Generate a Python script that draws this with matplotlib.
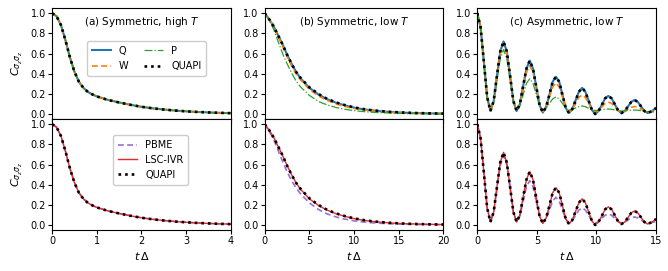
import matplotlib
matplotlib.use("Agg")
import matplotlib.pyplot as plt

# ---------------- data ----------------
# (a) symmetric, high T
t_a = [0, 0.1, 0.2, 0.3, 0.4, 0.5, 0.6, 0.7, 0.8, 0.9, 1.0, 1.25, 1.5, 1.75,
       2.0, 2.25, 2.5, 2.75, 3.0, 3.25, 3.5, 3.75, 4.0]
quapi_a = [1.0, 0.97, 0.88, 0.73, 0.56, 0.42, 0.32, 0.26, 0.22, 0.195, 0.175,
           0.14, 0.115, 0.092, 0.072, 0.057, 0.045, 0.035, 0.027, 0.021,
           0.016, 0.012, 0.009]
q_a = quapi_a
w_a = quapi_a
p_a = quapi_a
pbme_a = quapi_a
lsc_a = quapi_a

# (b) symmetric, low T
t_b = [0, 0.5, 1, 1.5, 2, 2.5, 3, 3.5, 4, 5, 6, 7, 8, 9, 10, 11, 12, 13, 14,
       15, 16, 17, 18, 19, 20]
quapi_b = [1.0, 0.94, 0.87, 0.78, 0.69, 0.59, 0.50, 0.42, 0.36, 0.265, 0.20,
           0.15, 0.115, 0.088, 0.066, 0.05, 0.038, 0.029, 0.022, 0.017,
           0.013, 0.01, 0.008, 0.006, 0.005]
q_b = [1.0, 0.94, 0.87, 0.78, 0.69, 0.59, 0.50, 0.42, 0.355, 0.26, 0.195,
       0.147, 0.112, 0.085, 0.064, 0.048, 0.037, 0.028, 0.021, 0.016,
       0.012, 0.01, 0.008, 0.006, 0.005]
w_b = [1.0, 0.94, 0.87, 0.77, 0.67, 0.57, 0.48, 0.40, 0.34, 0.245, 0.18,
       0.135, 0.10, 0.075, 0.055, 0.042, 0.032, 0.024, 0.018, 0.014,
       0.011, 0.008, 0.006, 0.005, 0.004]
p_b = [1.0, 0.93, 0.84, 0.72, 0.60, 0.50, 0.41, 0.33, 0.27, 0.185, 0.125,
       0.09, 0.065, 0.047, 0.034, 0.025, 0.018, 0.013, 0.01, 0.007,
       0.005, 0.004, 0.003, 0.002, 0.002]
pbme_b = [1.0, 0.93, 0.85, 0.74, 0.63, 0.53, 0.44, 0.37, 0.31, 0.22, 0.155,
          0.11, 0.08, 0.058, 0.042, 0.031, 0.023, 0.017, 0.013, 0.01,
          0.008, 0.006, 0.005, 0.004, 0.003]
lsc_b = q_b

# (c) asymmetric, low T
t_c = [round(0.275 * i, 3) for i in range(55)] + [15.0]
quapi_c = [1.00, 0.86, 0.52, 0.17, 0.03,
           0.13, 0.38, 0.62, 0.72,
           0.62, 0.38, 0.13, 0.03,
           0.10, 0.28, 0.45, 0.53,
           0.45, 0.27, 0.09, 0.015,
           0.07, 0.19, 0.32, 0.37,
           0.32, 0.19, 0.06, 0.01,
           0.05, 0.135, 0.22, 0.26,
           0.22, 0.13, 0.04, 0.0,
           0.03, 0.09, 0.155, 0.18,
           0.155, 0.095, 0.035, 0.01,
           0.03, 0.075, 0.12, 0.14,
           0.12, 0.075, 0.03, 0.01,
           0.025, 0.045, 0.06]
q_c = quapi_c
lsc_c = quapi_c
w_c = [1.00, 0.86, 0.52, 0.17, 0.03,
       0.13, 0.365, 0.60, 0.70,
       0.60, 0.365, 0.13, 0.03,
       0.095, 0.255, 0.415, 0.48,
       0.414, 0.25, 0.09, 0.025,
       0.067, 0.17, 0.27, 0.31,
       0.268, 0.165, 0.062, 0.02,
       0.045, 0.105, 0.165, 0.19,
       0.165, 0.105, 0.045, 0.02,
       0.035, 0.07, 0.105, 0.12,
       0.105, 0.07, 0.035, 0.02,
       0.028, 0.048, 0.067, 0.075,
       0.067, 0.048, 0.028, 0.02,
       0.025, 0.032, 0.037]
p_c = [1.00, 0.85, 0.50, 0.16, 0.03,
       0.12, 0.335, 0.55, 0.64,
       0.55, 0.34, 0.125, 0.035,
       0.08, 0.19, 0.305, 0.35,
       0.305, 0.195, 0.085, 0.04,
       0.06, 0.105, 0.15, 0.17,
       0.15, 0.105, 0.06, 0.04,
       0.046, 0.06, 0.074, 0.08,
       0.073, 0.058, 0.042, 0.035,
       0.037, 0.043, 0.048, 0.05,
       0.047, 0.04, 0.033, 0.03,
       0.031, 0.035, 0.039, 0.04,
       0.038, 0.033, 0.027, 0.025,
       0.023, 0.021, 0.02]
pbme_c = [1.00, 0.86, 0.52, 0.17, 0.03,
          0.126, 0.36, 0.594, 0.69,
          0.594, 0.36, 0.126, 0.03,
          0.09, 0.235, 0.38, 0.44,
          0.38, 0.232, 0.086, 0.025,
          0.062, 0.15, 0.238, 0.275,
          0.237, 0.148, 0.06, 0.02,
          0.042, 0.095, 0.148, 0.17,
          0.148, 0.095, 0.042, 0.02,
          0.033, 0.065, 0.097, 0.11,
          0.097, 0.065, 0.033, 0.02,
          0.029, 0.05, 0.071, 0.08,
          0.071, 0.05, 0.029, 0.02,
          0.024, 0.03, 0.035]

titles = [r"(a) Symmetric, high $T$", r"(b) Symmetric, low $T$",
          r"(c) Asymmetric, low $T$"]
x_ticks = [[0, 1, 2, 3, 4], [0, 5, 10, 15, 20], [0, 5, 10, 15]]
x_lims = [(0, 4), (0, 20), (0, 15)]
y_ticks = [0.0, 0.2, 0.4, 0.6, 0.8, 1.0]

# ---------------- plot ----------------
plt.rcParams['font.family'] = ['DejaVu Sans']
plt.rcParams['font.size'] = 7
plt.rcParams['mathtext.fontset'] = 'dejavusans'

fig, axes = plt.subplots(2, 3, figsize=(6.68, 2.71), dpi=100, sharex='col')
fig.subplots_adjust(left=0.078, right=0.982, top=0.970, bottom=0.151,
                    wspace=0.19, hspace=0.0)

C_Q, C_W, C_P = '#1f77b4', '#ff7f0e', '#2ca02c'
C_PBME, C_LSC = '#9a6fd6', '#e8282b'
dot = (0, (1, 1.5))

top_sets = [(t_a, q_a, w_a, p_a, quapi_a), (t_b, q_b, w_b, p_b, quapi_b),
            (t_c, q_c, w_c, p_c, quapi_c)]
bot_sets = [(t_a, pbme_a, lsc_a, quapi_a), (t_b, pbme_b, lsc_b, quapi_b),
            (t_c, pbme_c, lsc_c, quapi_c)]

for j in range(3):
    ax = axes[0, j]
    t, q, w, p, qu = top_sets[j]
    ax.plot(t, q, color=C_Q, lw=1.5, ls='-', label='Q')
    ax.plot(t, w, color=C_W, lw=1.2, ls=(0, (3.5, 2)), label='W')
    ax.plot(t, p, color=C_P, lw=0.9, ls='-.', label='P')
    ax.plot(t, qu, color='black', lw=1.9, ls=dot, label='QUAPI')
    ax.text(0.5, 0.875, titles[j], transform=ax.transAxes, ha='center',
            va='center', fontsize=7.5)

    ax2 = axes[1, j]
    t, pb, ls_, qu = bot_sets[j]
    ax2.plot(t, pb, color=C_PBME, lw=1.2, ls=(0, (3.5, 2)), label='PBME')
    ax2.plot(t, ls_, color=C_LSC, lw=1.0, ls='-', label='LSC-IVR')
    ax2.plot(t, qu, color='black', lw=1.9, ls=dot, label='QUAPI')

    for a in (ax, ax2):
        a.set_xlim(*x_lims[j])
        a.set_ylim(-0.05, 1.05)
        a.set_xticks(x_ticks[j])
        a.set_yticks(y_ticks)
        a.tick_params(length=3, width=0.8, pad=1.5, labelsize=7)
    ax.tick_params(labelbottom=False)
    ax2.set_xlabel(r"$t\,\Delta$", fontsize=8, labelpad=3)

axes[0, 0].set_ylabel(r"$C_{\sigma_z\sigma_z}$", fontsize=8, labelpad=4)
axes[1, 0].set_ylabel(r"$C_{\sigma_z\sigma_z}$", fontsize=8, labelpad=4)

axes[0, 0].legend(ncol=2, loc='upper right', bbox_to_anchor=(0.89, 0.75),
                  fontsize=7, handlelength=2.0, columnspacing=1.6,
                  borderpad=0.5, labelspacing=0.6, framealpha=1,
                  edgecolor='#cccccc')
axes[1, 0].legend(loc='upper right', bbox_to_anchor=(0.79, 0.9),
                  fontsize=7, handlelength=2.0, borderpad=0.5,
                  labelspacing=0.5, framealpha=1, edgecolor='#cccccc')

fig.savefig('out.png', dpi=100)
